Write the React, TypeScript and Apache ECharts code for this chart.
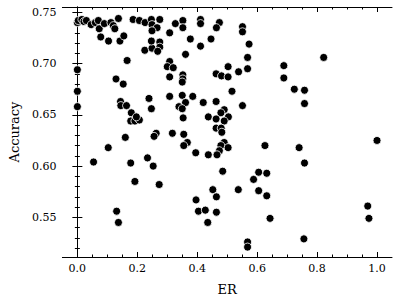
import React, { useEffect, useRef } from "react";
import * as echarts from "echarts";

// ER (x) and Accuracy (y) values
const erValues = [
  0.0, 0.003, 0.015, 0.022, 0.03, 0.046, 0.06, 0.07, 0.073, 0.09,
  0.112, 0.12, 0.125, 0.137, 0.078, 0.104, 0.142, 0.155, 0.166, 0.0,
  0.0, 0.0, 0.129, 0.153, 0.186, 0.207, 0.226, 0.247, 0.249, 0.275,
  0.266, 0.249, 0.225, 0.249, 0.275, 0.247, 0.275, 0.268, 0.308, 0.327,
  0.352, 0.352, 0.377, 0.361, 0.411, 0.411, 0.411, 0.474, 0.464, 0.551,
  0.551, 0.446, 0.573, 0.568, 0.308, 0.3, 0.32, 0.308, 0.352, 0.352,
  0.35, 0.503, 0.568, 0.538, 0.463, 0.481, 0.503, 0.516, 0.689, 0.689,
  0.822, 0.724, 0.758, 0.758, 0.144, 0.145, 0.164, 0.18, 0.178, 0.192,
  0.207, 0.197, 0.239, 0.247, 0.308, 0.35, 0.385, 0.361, 0.339, 0.35,
  0.353, 0.42, 0.463, 0.551, 0.49, 0.479, 0.437, 0.463, 0.504, 0.49,
  0.463, 0.48, 0.482, 0.263, 0.256, 0.317, 0.355, 0.367, 0.355, 0.16,
  0.103, 0.49, 0.479, 0.503, 0.626, 0.74, 1.0, 0.474, 0.466, 0.437,
  0.395, 0.758, 0.054, 0.178, 0.234, 0.253, 0.192, 0.273, 0.485, 0.605,
  0.632, 0.588, 0.452, 0.464, 0.537, 0.605, 0.632, 0.396, 0.404, 0.427,
  0.464, 0.435, 0.643, 0.131, 0.137, 0.568, 0.568, 0.756, 0.969, 0.973,
];
const accuracyValues = [
  0.74, 0.742, 0.743, 0.741, 0.742, 0.738, 0.74, 0.742, 0.734, 0.739,
  0.74, 0.737, 0.734, 0.744, 0.726, 0.722, 0.722, 0.727, 0.703, 0.694,
  0.673, 0.658, 0.685, 0.68, 0.743, 0.742, 0.74, 0.743, 0.738, 0.743,
  0.735, 0.732, 0.713, 0.715, 0.721, 0.722, 0.716, 0.712, 0.73, 0.739,
  0.742, 0.735, 0.724, 0.709, 0.743, 0.739, 0.717, 0.74, 0.735, 0.736,
  0.731, 0.724, 0.719, 0.706, 0.702, 0.697, 0.696, 0.687, 0.689, 0.685,
  0.682, 0.697, 0.695, 0.692, 0.69, 0.688, 0.687, 0.673, 0.698, 0.686,
  0.706, 0.675, 0.674, 0.661, 0.663, 0.659, 0.659, 0.652, 0.644, 0.644,
  0.645, 0.648, 0.666, 0.656, 0.668, 0.669, 0.668, 0.662, 0.658, 0.656,
  0.647, 0.662, 0.663, 0.659, 0.655, 0.652, 0.648, 0.646, 0.648, 0.644,
  0.637, 0.637, 0.633, 0.632, 0.629, 0.632, 0.631, 0.623, 0.62, 0.628,
  0.618, 0.623, 0.62, 0.618, 0.62, 0.618, 0.625, 0.615, 0.611, 0.611,
  0.613, 0.603, 0.604, 0.603, 0.608, 0.6, 0.585, 0.582, 0.595, 0.594,
  0.593, 0.587, 0.577, 0.57, 0.577, 0.576, 0.571, 0.567, 0.556, 0.557,
  0.555, 0.545, 0.549, 0.556, 0.545, 0.526, 0.521, 0.529, 0.561, 0.549,
];

const xMajorTicks = [0, 0.2, 0.4, 0.6, 0.8, 1.0];
const xMinorTicks = [
  0, 0.05, 0.1, 0.15, 0.2, 0.25, 0.3, 0.35, 0.4, 0.45, 0.5,
  0.55, 0.6, 0.65, 0.7, 0.75, 0.8, 0.85, 0.9, 0.95, 1.0,
];
const yMajorTicks = [0.55, 0.6, 0.65, 0.7, 0.75];
const yMinorTicks = [
  0.52, 0.53, 0.54, 0.55, 0.56, 0.57, 0.58, 0.59, 0.6, 0.61, 0.62, 0.63,
  0.64, 0.65, 0.66, 0.67, 0.68, 0.69, 0.7, 0.71, 0.72, 0.73, 0.74, 0.75,
];

const X_MIN = -0.05;
const X_MAX = 1.05;
const Y_MIN = 0.5113;
const Y_MAX = 0.7552;

const FONT = "DejaVu Serif";

export default function App() {
  const ref = useRef<HTMLDivElement>(null);

  useEffect(() => {
    if (!ref.current) return;
    const chart = echarts.init(ref.current, undefined, { renderer: "svg" });
    const line = { show: true, lineStyle: { color: "#000", width: 1 } };
    const noLine = { show: false };

    const xAx = (position: string, ticks: number[], len: number, main: boolean) => ({
      type: "value",
      position,
      min: X_MIN,
      max: X_MAX,
      axisLine: main ? line : noLine,
      splitLine: { show: false },
      axisTick: {
        show: true,
        inside: true,
        length: len,
        customValues: ticks,
        lineStyle: { color: "#000", width: 1 },
      },
      axisLabel:
        main && position === "bottom"
          ? {
              show: true,
              customValues: xMajorTicks,
              formatter: (v: number) => v.toFixed(1),
              fontFamily: FONT,
              fontSize: 11,
              color: "#000",
              margin: 6,
            }
          : { show: false },
      ...(main && position === "bottom"
        ? {
            name: "ER",
            nameLocation: "middle",
            nameGap: 26,
            nameTextStyle: { fontFamily: FONT, fontSize: 13, color: "#000" },
          }
        : {}),
    });

    const yAx = (position: string, ticks: number[], len: number, main: boolean) => ({
      type: "value",
      position,
      min: Y_MIN,
      max: Y_MAX,
      axisLine: main ? line : noLine,
      splitLine: { show: false },
      axisTick: {
        show: true,
        inside: true,
        length: len,
        customValues: ticks,
        lineStyle: { color: "#000", width: 1 },
      },
      axisLabel:
        main && position === "left"
          ? {
              show: true,
              customValues: yMajorTicks,
              formatter: (v: number) => v.toFixed(2),
              fontFamily: FONT,
              fontSize: 11,
              color: "#000",
              margin: 6,
            }
          : { show: false },
      ...(main && position === "left"
        ? {
            name: "Accuracy",
            nameLocation: "middle",
            nameGap: 40,
            nameTextStyle: { fontFamily: FONT, fontSize: 13, color: "#000" },
          }
        : {}),
    });

    const data = erValues.map((x, i) => [x, accuracyValues[i]]);

    chart.setOption({
      animation: false,
      backgroundColor: "#fff",
      grid: { left: 60, top: 7, right: 7, bottom: 46, containLabel: false },
      xAxis: [
        xAx("bottom", xMajorTicks, 5, true),
        xAx("bottom", xMinorTicks, 2.5, false),
        xAx("top", xMajorTicks, 5, true),
        xAx("top", xMinorTicks, 2.5, false),
      ],
      yAxis: [
        yAx("left", yMajorTicks, 5, true),
        yAx("left", yMinorTicks, 2.5, false),
        yAx("right", yMajorTicks, 5, true),
        yAx("right", yMinorTicks, 2.5, false),
      ],
      series: [
        {
          type: "scatter",
          xAxisIndex: 0,
          yAxisIndex: 0,
          data,
          symbol: "circle",
          symbolSize: 8,
          itemStyle: { color: "#000", borderColor: "#fff", borderWidth: 0.8, opacity: 1 },
          emphasis: { disabled: true },
        },
      ],
    });
    return () => chart.dispose();
  }, []);

  return (
    <div
      ref={ref}
      style={{ position: "fixed", left: 0, top: 0, width: 399, height: 303, background: "#fff" }}
    />
  );
}
